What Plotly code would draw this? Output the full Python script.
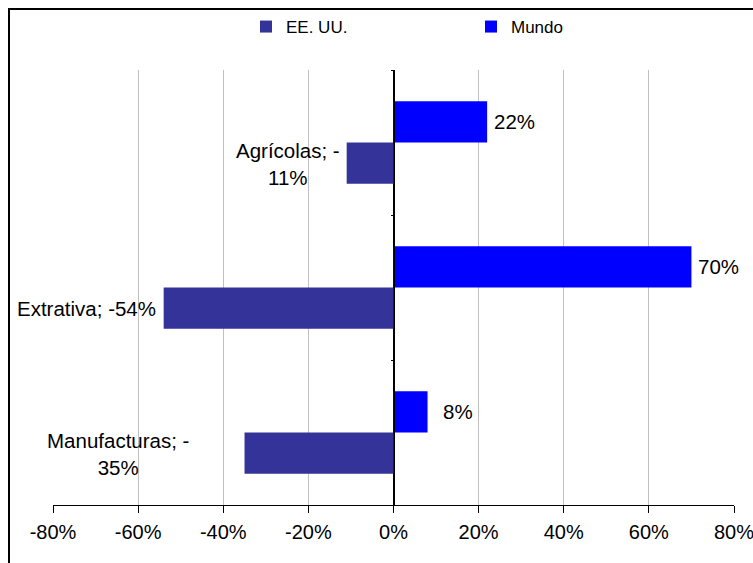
import plotly.graph_objects as go

categories = ["Agrícolas", "Extrativa", "Manufacturas"]
us_values = [-0.11, -0.54, -0.35]
world_values = [0.22, 0.70, 0.08]
series_names = ["EE. UU.", "Mundo"]
x_ticks = [-0.8, -0.6, -0.4, -0.2, 0.0, 0.2, 0.4, 0.6, 0.8]
x_tick_labels = [f"{round(v*100):d}%" for v in x_ticks]

FONT = "Liberation Sans, Arial, sans-serif"
C_US = "#333399"
C_W = "#0000FF"

W, H = 753, 563
L, R, T, B = 53, 19, 70, 58
pw, ph = W - L - R, H - T - B

def px2x(px):
    return (px - L) / pw

def py2y(py):
    return 1 + (T - py) / ph

fig = go.Figure()
fig.add_trace(go.Bar(y=categories, x=us_values, orientation="h", name=series_names[0],
                     marker=dict(color=C_US, line=dict(width=0))))
fig.add_trace(go.Bar(y=categories, x=world_values, orientation="h", name=series_names[1],
                     marker=dict(color=C_W, line=dict(width=0))))

# data labels
wrap = [True, False, True]
us_shift = [-5, -6, -54]
w_shift = [5, 5, 13]
LBL = 20.5
annotations = []
for c, v, wr, s in zip(categories, us_values, wrap, us_shift):
    pct = f"{round(v*100):d}%"
    txt = f"{c}; -<br>{pct[1:]}" if wr else f"{c}; {pct}"
    annotations.append(dict(x=v, y=c, xref="x", yref="y", text=txt, showarrow=False,
                            xanchor="right", yanchor="middle", align="center",
                            xshift=s, yshift=-21, font=dict(family=FONT, size=LBL, color="black")))
for c, v, s in zip(categories, world_values, w_shift):
    annotations.append(dict(x=v, y=c, xref="x", yref="y", text=f"{round(v*100):d}%", showarrow=False,
                            xanchor="left", yanchor="middle",
                            xshift=s, yshift=21, font=dict(family=FONT, size=LBL, color="black")))

fig.update_layout(
    width=W, height=H,
    margin=dict(l=L, r=R, t=T, b=B, autoexpand=False),
    paper_bgcolor="white", plot_bgcolor="white",
    barmode="group", bargap=0.43, bargroupgap=0,
    font=dict(family=FONT, size=18, color="black"),
    showlegend=True,
    legend=dict(orientation="h", x=px2x(246), xanchor="left", y=py2y(27), yanchor="middle",
                font=dict(family=FONT, size=17, color="black"), entrywidth=180,
                bgcolor="rgba(0,0,0,0)"),
    xaxis=dict(range=[-0.8, 0.8], tickvals=x_ticks, ticktext=x_tick_labels,
               showgrid=True, gridcolor="#C0C0C0", gridwidth=1,
               zeroline=True, zerolinecolor="black", zerolinewidth=1,
               showline=True, linecolor="black", linewidth=1,
               ticks="outside", ticklen=7, tickcolor="black", ticklabelstandoff=2,
               ticklabeloverflow="allow",
               tickfont=dict(family=FONT, size=20, color="black"), fixedrange=True),
    yaxis=dict(type="category", categoryorder="array",
               categoryarray=categories[::-1], anchor="free", position=0.5,
               showticklabels=False, showgrid=False, zeroline=False,
               showline=True, linecolor="black", linewidth=1,
               ticks="outside", ticklen=3, tickcolor="black", tickson="boundaries",
               fixedrange=True),
    annotations=annotations,
    shapes=[dict(type="rect", xref="paper", yref="paper",
                 x0=px2x(9), x1=px2x(W + 20), y0=py2y(H + 20), y1=py2y(9),
                 line=dict(color="black", width=2), fillcolor="rgba(0,0,0,0)", layer="above")],
)

fig.write_html("out.html", config={"displayModeBar": False},
               post_script="document.body.style.margin='0';document.body.style.overflow='hidden';")
